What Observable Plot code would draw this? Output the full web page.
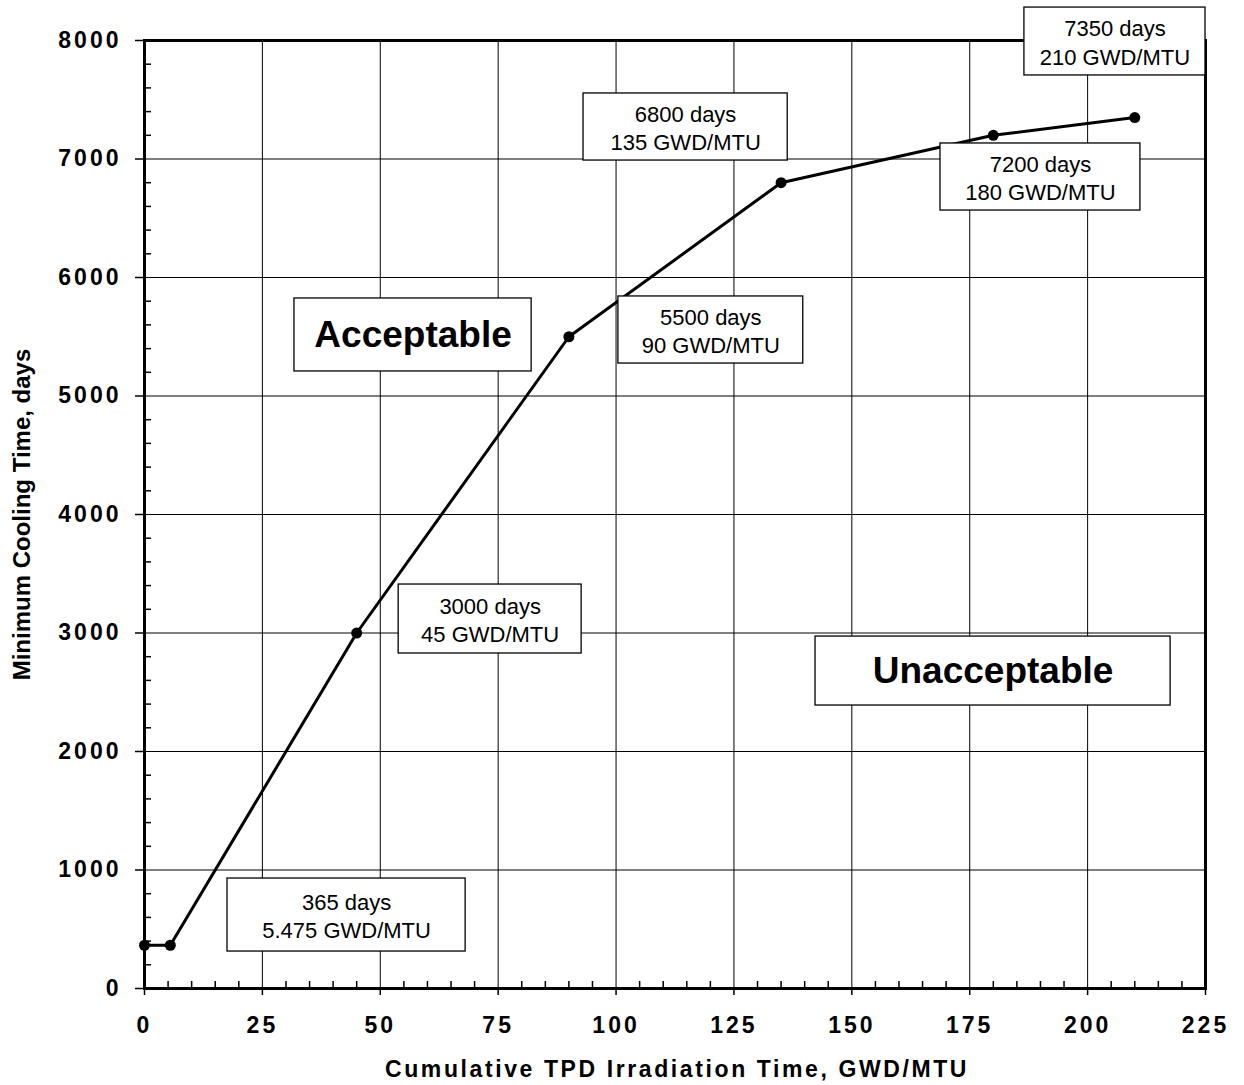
<!DOCTYPE html>
<html><head><meta charset="utf-8">
<script src="https://cdn.jsdelivr.net/npm/d3@7"></script>
<script src="https://cdn.jsdelivr.net/npm/@observablehq/plot@0.6"></script>
<style>body{margin:0;background:#fff;} svg{display:block;} .ls3 text{letter-spacing:3px;} .xtitle text{letter-spacing:2.6px;}</style>
</head><body><div id="chart"></div>
<script>
const irradiation = [0, 5.475, 45, 90, 135, 180, 210];
const coolingDays = [365, 365, 3000, 5500, 6800, 7200, 7350];
const xTicks = [0, 25, 50, 75, 100, 125, 150, 175, 200, 225];
const yTicks = [0, 1000, 2000, 3000, 4000, 5000, 6000, 7000, 8000];
const xMinor = d3.range(0, 226, 5).filter(v => v % 25 !== 0);
const yMinor = d3.range(0, 8001, 200).filter(v => v % 1000 !== 0);
const noteText = ["365 days\n5.475 GWD/MTU", "3000 days\n45 GWD/MTU", "5500 days\n90 GWD/MTU", "6800 days\n135 GWD/MTU", "7200 days\n180 GWD/MTU", "7350 days\n210 GWD/MTU"];
const noteX1 = [17.6, 53.9, 100.5, 93.1, 168.8, 186.6];
const noteX2 = [68.1, 92.7, 139.7, 136.4, 211.2, 225.0];
const noteY1 = [312, 2827, 5274, 6987, 6565, 7705];
const noteY2 = [928, 3409, 5840, 7553, 7131, 8278];
const regionText = ["Acceptable", "Unacceptable"];
const regionX1 = [31.8, 142.3];
const regionX2 = [82.1, 217.6];
const regionY1 = [5207, 2388];
const regionY2 = [5823, 2970];

const pts = irradiation.map((x, i) => ({x, y: coolingDays[i]}));
const notes = noteText.map((t, i) => ({t, x1: noteX1[i], x2: noteX2[i], y1: noteY1[i], y2: noteY2[i]}));
const regions = regionText.map((t, i) => ({t, x1: regionX1[i], x2: regionX2[i], y1: regionY1[i], y2: regionY2[i]}));
const font = "'Liberation Sans', Arial, sans-serif";

const chart = Plot.plot({
  width: 1244, height: 1085,
  marginLeft: 144, marginRight: 39, marginTop: 40, marginBottom: 97,
  style: {fontFamily: font, background: "#fff", color: "#000", overflow: "visible"},
  x: {domain: [0, 225]},
  y: {domain: [0, 8000]},
  marks: [
    Plot.gridX(xTicks, {stroke: "#000", strokeOpacity: 1, strokeWidth: 1}),
    Plot.gridY(yTicks, {stroke: "#000", strokeOpacity: 1, strokeWidth: 1}),
    Plot.axisX({ticks: xMinor, tickSize: -7, tickFormat: () => "", strokeWidth: 1.5}),
    Plot.axisY({ticks: yMinor, tickSize: -7, tickFormat: () => "", strokeWidth: 1.5}),
    Plot.axisX({ticks: xTicks, tickSize: 7, tickPadding: 21, strokeWidth: 1.5, label: null, fontSize: 23, fontWeight: "bold", className: "ls3", tickFormat: d => String(d)}),
    Plot.axisY({ticks: yTicks, tickSize: 9, tickPadding: 14, strokeWidth: 1.5, label: null, fontSize: 23, fontWeight: "bold", className: "ls3", tickFormat: d => String(d)}),
    Plot.line(pts, {x: "x", y: "y", stroke: "#000", strokeWidth: 3}),
    Plot.dot(pts, {x: "x", y: "y", r: 5.5, fill: "#000"}),
    Plot.frame({stroke: "#000", strokeWidth: 3}),
    Plot.rect(notes, {x1: "x1", x2: "x2", y1: "y1", y2: "y2", fill: "#fff", stroke: "#000", strokeWidth: 1.3}),
    Plot.text(notes, {x: d => (d.x1 + d.x2) / 2, y: d => (d.y1 + d.y2) / 2, text: "t", fontSize: 22, lineHeight: 1.3, fill: "#000"}),
    Plot.rect(regions, {x1: "x1", x2: "x2", y1: "y1", y2: "y2", fill: "#fff", stroke: "#000", strokeWidth: 1.3}),
    Plot.text(regions, {x: d => (d.x1 + d.x2) / 2, y: d => (d.y1 + d.y2) / 2, text: "t", fontSize: 37, fontWeight: "bold", fill: "#000"}),
    Plot.text(["Cumulative TPD Irradiation Time, GWD/MTU"], {frameAnchor: "bottom", dy: 88, dx: 2, fontSize: 23, fontWeight: "bold", fill: "#000", className: "xtitle"}),
    Plot.text(["Minimum Cooling Time, days"], {frameAnchor: "left", textAnchor: "middle", dx: -122, rotate: -90, fontSize: 24, fontWeight: "bold", fill: "#000"})
  ]
});
document.getElementById("chart").appendChild(chart);
</script></body></html>
